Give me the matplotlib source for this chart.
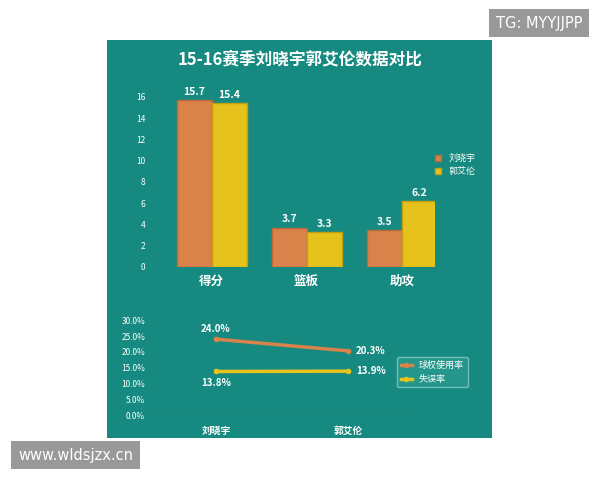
import matplotlib.pyplot as plt
import numpy as np

plt.rcParams['font.family'] = ['Noto Sans CJK SC', 'DejaVu Sans']

categories = ['得分', '篮板', '助攻']
liu_vals = [15.7, 3.7, 3.5]
guo_vals = [15.4, 3.3, 6.2]
players = ['刘晓宇', '郭艾伦']
usage_rate = [24.0, 20.3]
turnover_rate = [13.8, 13.9]

teal = '#168a80'
orange = '#d9824a'
yellow = '#e6c21c'

fig = plt.figure(figsize=(6, 4.8), dpi=100)
fig.patch.set_facecolor('white')

panel = fig.add_axes([0.178, 0.0875, 0.642, 0.829])
panel.set_facecolor(teal)
panel.set_xticks([])
panel.set_yticks([])
for s in panel.spines.values():
    s.set_visible(False)

fig.text(0.5, 0.877, '15-16赛季刘晓宇郭艾伦数据对比', ha='center', va='center',
         color='white', fontsize=12, fontweight='bold')

# bar chart
ax = fig.add_axes([0.25, 0.444, 0.475, 0.354])
ax.patch.set_alpha(0)
x = np.arange(len(categories))
w = 0.37
b1 = ax.bar(x - w / 2, liu_vals, w, color=orange, edgecolor='#b86a38', label='刘晓宇')
b2 = ax.bar(x + w / 2, guo_vals, w, color=yellow, edgecolor='#c4a010', label='郭艾伦')
for bars in (b1, b2):
    for b in bars:
        ax.text(b.get_x() + b.get_width() / 2, b.get_height() + 0.3, f'{b.get_height():.1f}',
                ha='center', va='bottom', color='white', fontsize=7.5, fontweight='bold')
ax.set_ylim(0, 16)
ax.set_xlim(-0.65, 2.35)
ax.set_yticks(range(0, 17, 2))
ax.set_xticks(x)
ax.set_xticklabels(categories, color='white', fontsize=9, fontweight='bold')
ax.tick_params(axis='y', colors='white', labelsize=6, length=0)
ax.tick_params(axis='x', length=0, pad=6)
for s in ax.spines.values():
    s.set_visible(False)
ax.legend(loc='center left', bbox_to_anchor=(0.97, 0.6), frameon=False, labelcolor='white',
          fontsize=6.5, handlelength=0.7, handleheight=0.7)

# line chart
ax2 = fig.add_axes([0.25, 0.135, 0.44, 0.198])
ax2.patch.set_alpha(0)
xp = np.arange(len(players))
ax2.plot(xp, usage_rate, color=orange, lw=2.5, marker='o', ms=3, label='球权使用率')
ax2.plot(xp, turnover_rate, color=yellow, lw=2.5, marker='o', ms=3, label='失误率')
ax2.text(0, usage_rate[0] + 1.5, f'{usage_rate[0]:.1f}%', ha='center', va='bottom',
         color='white', fontsize=7, fontweight='bold')
ax2.text(1.06, usage_rate[1], f'{usage_rate[1]:.1f}%', ha='left', va='center',
         color='white', fontsize=7, fontweight='bold')
ax2.text(0, turnover_rate[0] - 2, f'{turnover_rate[0]:.1f}%', ha='center', va='top',
         color='white', fontsize=7, fontweight='bold')
ax2.text(1.06, turnover_rate[1], f'{turnover_rate[1]:.1f}%', ha='left', va='center',
         color='white', fontsize=7, fontweight='bold')
ax2.set_ylim(0, 30)
ax2.set_xlim(-0.5, 1.5)
ax2.set_yticks(range(0, 31, 5))
ax2.set_yticklabels([f'{v:.1f}%' for v in range(0, 31, 5)])
ax2.set_xticks(xp)
ax2.set_xticklabels(players, color='white', fontsize=7, fontweight='bold')
ax2.tick_params(axis='y', colors='white', labelsize=6, length=0)
ax2.tick_params(axis='x', length=0, pad=8)
for s in ax2.spines.values():
    s.set_visible(False)
ax2.axhline(0, color='#7fc4bc', lw=0.8)
ax2.legend(loc='center left', bbox_to_anchor=(0.92, 0.45), frameon=True, facecolor='#2a9a8f',
           edgecolor='#8ac9c1', labelcolor='white', fontsize=6.5, handlelength=1.2)

# watermarks
fig.text(0.97, 0.952, 'TG: MYYJJPP', ha='right', va='center', color='white', fontsize=10.5,
         family='DejaVu Sans',
         bbox=dict(boxstyle='square,pad=0.45', facecolor='#8e8e8e', edgecolor='none', alpha=0.9))
fig.text(0.03, 0.052, 'www.wldsjzx.cn', ha='left', va='center', color='white', fontsize=10.5,
         family='DejaVu Sans',
         bbox=dict(boxstyle='square,pad=0.45', facecolor='#8e8e8e', edgecolor='none', alpha=0.9))

fig.savefig('out.png', dpi=100)
